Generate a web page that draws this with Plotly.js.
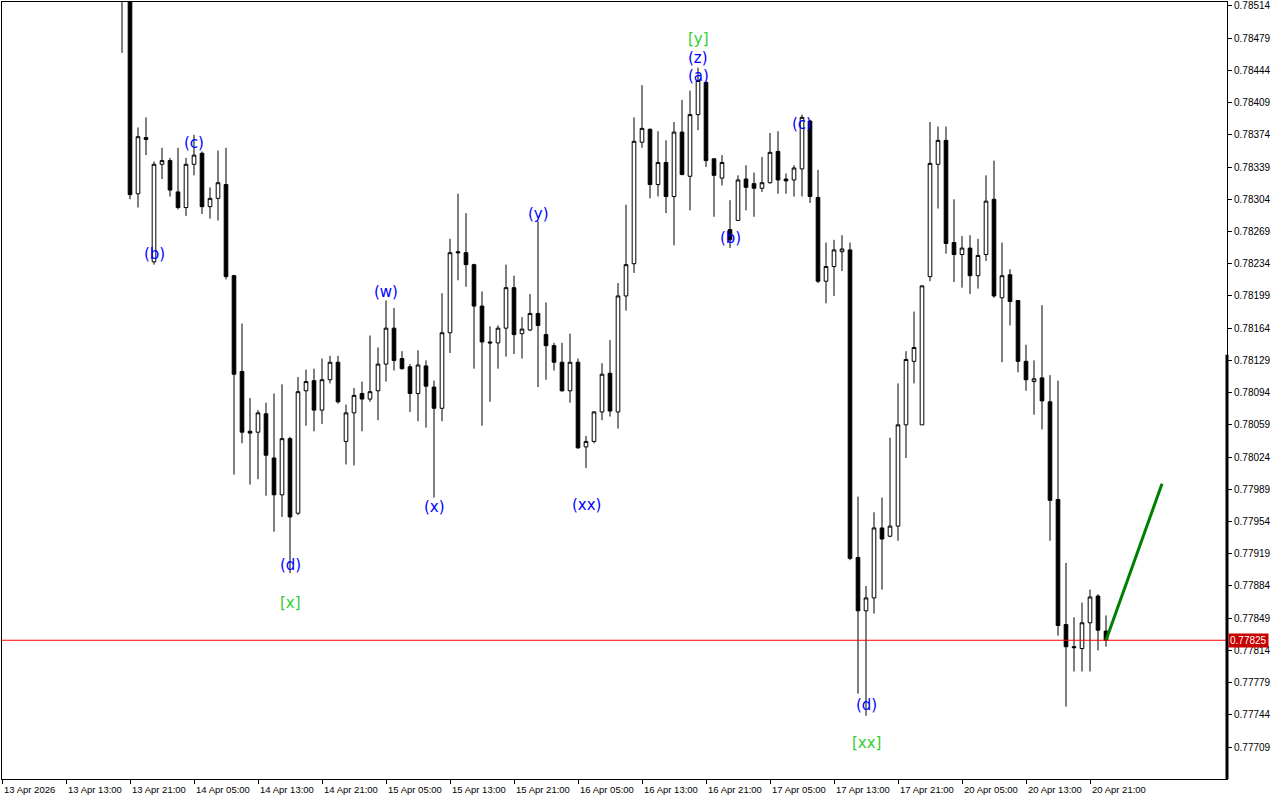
<!DOCTYPE html>
<html>
<head>
<meta charset="utf-8">
<script src="https://cdn.plot.ly/plotly-3.0.1.min.js"></script>
<style>html,body{margin:0;padding:0;background:#fff;}#chart{width:1280px;height:800px;}</style>
</head>
<body>
<div id="chart"></div>
<script>
// Hourly bars, bar number counted from the 13 Apr 2026 label (first visible bar = 15)
const firstBar = 15;
const openP = [0.78530,0.78540,0.78310,0.78371,0.78236,0.78342,0.78346,0.78312,0.78295,0.78342,
0.78354,0.78296,0.78305,0.78320,0.78221,0.78117,0.78052,0.78051,0.78071,0.78023,
0.77983,0.78044,0.77963,0.78096,0.78107,0.78075,0.78108,0.78127,0.78041,0.78072,
0.78093,0.78087,0.78096,0.78125,0.78164,0.78131,0.78122,0.78093,0.78123,0.78100,
0.78077,0.78159,0.78247,0.78246,0.78233,0.78188,0.78149,0.78148,0.78164,0.78208,
0.78158,0.78162,0.78180,0.78157,0.78145,0.78127,0.78096,0.78127,0.78035,0.78041,
0.78073,0.78115,0.78073,0.78199,0.78234,0.78366,0.78380,0.78320,0.78344,0.78307,
0.78377,0.78329,0.78396,0.78431,0.78348,0.78327,0.78271,0.78281,0.78326,0.78321,
0.78316,0.78322,0.78356,0.78326,0.78325,0.78337,0.78389,0.78306,0.78215,0.78231,
0.78247,0.78249,0.77915,0.77857,0.77871,0.77947,0.77938,0.77949,0.78059,0.78128,
0.78059,0.78220,0.78342,0.78368,0.78257,0.78244,0.78251,0.78221,0.78244,0.78304,
0.78197,0.78222,0.78194,0.78128,0.78106,0.78110,0.78084,0.77978,0.77842,0.77818,
0.77816,0.77844,0.77873,0.77835];
const highP = [0.78560,0.78550,0.78382,0.78393,0.78345,0.78360,0.78349,0.78360,0.78349,0.78374,
0.78356,0.78317,0.78357,0.78360,0.78222,0.78169,0.78088,0.78075,0.78083,0.78093,
0.78103,0.78046,0.78111,0.78119,0.78120,0.78131,0.78134,0.78134,0.78081,0.78099,
0.78106,0.78156,0.78143,0.78194,0.78186,0.78139,0.78125,0.78140,0.78129,0.78107,
0.78202,0.78261,0.78310,0.78289,0.78234,0.78204,0.78166,0.78167,0.78233,0.78221,
0.78176,0.78201,0.78280,0.78192,0.78148,0.78148,0.78158,0.78131,0.78047,0.78074,
0.78126,0.78151,0.78213,0.78298,0.78393,0.78428,0.78381,0.78378,0.78368,0.78388,
0.78412,0.78422,0.78447,0.78432,0.78348,0.78352,0.78303,0.78330,0.78341,0.78333,
0.78350,0.78376,0.78378,0.78332,0.78341,0.78396,0.78390,0.78336,0.78257,0.78260,
0.78265,0.78257,0.77981,0.77884,0.77964,0.77980,0.78045,0.78104,0.78139,0.78182,
0.78210,0.78388,0.78383,0.78383,0.78304,0.78264,0.78265,0.78261,0.78330,0.78346,
0.78257,0.78228,0.78194,0.78146,0.78129,0.78189,0.78113,0.78107,0.77909,0.77850,
0.77866,0.77880,0.77875,0.77852];
const lowP = [0.78463,0.78304,0.78295,0.78352,0.78233,0.78326,0.78307,0.78293,0.78286,0.78330,
0.78288,0.78283,0.78281,0.78217,0.78005,0.78039,0.77994,0.78000,0.77982,0.77943,
0.77959,0.77898,0.77961,0.78058,0.78052,0.78060,0.78104,0.78082,0.78016,0.78015,
0.78052,0.78084,0.78064,0.78106,0.78118,0.78119,0.78073,0.78063,0.78056,0.77980,
0.78063,0.78137,0.78216,0.78209,0.78120,0.78058,0.78084,0.78120,0.78133,0.78136,
0.78131,0.78161,0.78100,0.78108,0.78118,0.78095,0.78083,0.78033,0.78012,0.78039,
0.78064,0.78068,0.78055,0.78183,0.78224,0.78360,0.78305,0.78307,0.78289,0.78254,
0.78330,0.78292,0.78379,0.78339,0.78285,0.78319,0.78251,0.78281,0.78292,0.78285,
0.78312,0.78321,0.78310,0.78310,0.78307,0.78307,0.78300,0.78213,0.78191,0.78199,
0.78226,0.77912,0.77767,0.77743,0.77854,0.77880,0.77937,0.77933,0.78023,0.78104,
0.78059,0.78215,0.78294,0.78245,0.78214,0.78208,0.78201,0.78207,0.78237,0.78197,
0.78127,0.78167,0.78116,0.78096,0.78070,0.78054,0.77933,0.77830,0.77753,0.77791,
0.77791,0.77791,0.77814,0.77818];
const closeP = [0.78545,0.78309,0.78372,0.78369,0.78342,0.78346,0.78314,0.78295,0.78342,0.78352,
0.78296,0.78305,0.78322,0.78220,0.78114,0.78051,0.78050,0.78072,0.78026,0.77983,
0.78044,0.77959,0.78095,0.78106,0.78075,0.78108,0.78127,0.78084,0.78072,0.78091,
0.78087,0.78095,0.78125,0.78164,0.78129,0.78120,0.78093,0.78124,0.78101,0.78077,
0.78159,0.78246,0.78246,0.78233,0.78188,0.78149,0.78148,0.78164,0.78208,0.78157,
0.78163,0.78180,0.78167,0.78145,0.78127,0.78096,0.78127,0.78034,0.78041,0.78073,
0.78114,0.78074,0.78199,0.78233,0.78367,0.78381,0.78320,0.78344,0.78307,0.78377,
0.78331,0.78396,0.78433,0.78346,0.78330,0.78344,0.78260,0.78325,0.78317,0.78316,
0.78322,0.78355,0.78325,0.78324,0.78338,0.78393,0.78307,0.78215,0.78231,0.78249,
0.78250,0.77914,0.77857,0.77871,0.77947,0.77935,0.77949,0.78059,0.78130,0.78143,
0.78210,0.78343,0.78368,0.78256,0.78244,0.78251,0.78221,0.78243,0.78302,0.78199,
0.78221,0.78193,0.78128,0.78108,0.78109,0.78085,0.77977,0.77841,0.77818,0.77817,
0.77844,0.77872,0.77836,0.77825];

const timeLabels = ["13 Apr 2026","13 Apr 13:00","13 Apr 21:00","14 Apr 05:00","14 Apr 13:00","14 Apr 21:00",
"15 Apr 05:00","15 Apr 13:00","15 Apr 21:00","16 Apr 05:00","16 Apr 13:00","16 Apr 21:00",
"17 Apr 05:00","17 Apr 13:00","17 Apr 21:00","20 Apr 05:00","20 Apr 13:00","20 Apr 21:00"];
const timeLabelBars = [0,8,16,24,32,40,48,56,64,72,80,88,96,104,112,120,128,136];

const priceTicks = [0.78514,0.78479,0.78444,0.78409,0.78374,0.78339,0.78304,0.78269,0.78234,0.78199,
0.78164,0.78129,0.78094,0.78059,0.78024,0.77989,0.77954,0.77919,0.77884,0.77849,0.77814,0.77779,0.77744,0.77709];

const currentPrice = 0.77825;

// wave labels
const waveText  = ["(b)","(c)","(d)","[x]","(w)","(x)","(y)","(xx)","[y]","(z)","(a)","(b)","(c)","(d)","[xx]"];
const waveBar   = [19,24,36,36,48,54,67,73,87,87,87,91,100,108,108];
const wavePrice = [0.78245,0.78365,0.77907,0.77865,0.78203,0.77970,0.78288,0.77972,0.78478,0.78458,0.78438,0.78262,0.78386,0.77755,0.77713];
const waveColor = ["b","b","b","g","b","b","b","b","g","b","b","b","b","b","g"];

// projection line
const projBars = [138,145];
const projPrices = [0.77825,0.77995];

const xBars = openP.map((_, i) => firstBar + i);

const traces = [
  {
    type: 'candlestick',
    x: xBars, open: openP, high: highP, low: lowP, close: closeP,
    increasing: {line: {color: '#000000', width: 1}, fillcolor: '#ffffff'},
    decreasing: {line: {color: '#000000', width: 1}, fillcolor: '#000000'},
    whiskerwidth: 0,
    hoverinfo: 'skip',
    showlegend: false
  },
  {
    type: 'scatter', mode: 'lines',
    x: projBars, y: projPrices,
    line: {color: '#008000', width: 3},
    hoverinfo: 'skip', showlegend: false
  }
];

const annotations = [];
waveText.forEach((t, i) => {
  annotations.push({
    x: waveBar[i], y: wavePrice[i], xref: 'x', yref: 'y',
    text: t, showarrow: false, xanchor: 'center', yanchor: 'middle',
    font: {family: 'DejaVu Sans, sans-serif', size: 15, color: waveColor[i] === 'g' ? '#32CD32' : '#0000FF'}
  });
});
timeLabels.forEach((t, i) => {
  annotations.push({
    x: timeLabelBars[i], y: 0, xref: 'x', yref: 'paper',
    text: t, showarrow: false, xanchor: 'left', yanchor: 'top',
    xshift: 0, yshift: -3,
    font: {family: 'Liberation Sans, Arial, sans-serif', size: 9.5, color: '#000'}
  });
});
annotations.push({
  x: 1, y: currentPrice, xref: 'paper', yref: 'y',
  text: currentPrice.toFixed(5), showarrow: false, xanchor: 'left', yanchor: 'middle',
  xshift: 1, bgcolor: '#C80000', borderpad: 1,
  font: {family: 'Liberation Sans, Arial, sans-serif', size: 10, color: '#ffffff'}
});

const layout = {
  width: 1280, height: 800,
  margin: {l: 2, r: 53, t: 2, b: 21},
  paper_bgcolor: '#ffffff', plot_bgcolor: '#ffffff',
  showlegend: false,
  boxgap: 0.35,
  xaxis: {
    range: [0, 153.125], showgrid: false, zeroline: false,
    showline: true, linecolor: '#000', linewidth: 1, mirror: true,
    tickvals: timeLabelBars, ticktext: timeLabelBars.map(() => ''),
    ticks: 'outside', ticklen: 4, tickcolor: '#000', tickwidth: 1,
    rangeslider: {visible: false}, fixedrange: true
  },
  yaxis: {
    side: 'right', range: [0.776743, 0.785183],
    showgrid: false, zeroline: false,
    showline: true, linecolor: '#000', linewidth: 1, mirror: true,
    tickvals: priceTicks, ticktext: priceTicks.map(v => v.toFixed(5)),
    ticks: 'outside', ticklen: 4, tickcolor: '#000',
    tickfont: {family: 'Liberation Sans, Arial, sans-serif', size: 10, color: '#000'},
    fixedrange: true
  },
  shapes: [
    {type: 'line', xref: 'paper', yref: 'y', x0: 0, x1: 1, y0: currentPrice, y1: currentPrice,
     line: {color: '#FF0000', width: 1}},
    {type: 'line', xref: 'paper', yref: 'y', x0: 1, x1: 1, y0: 0.78135, y1: 0.776743,
     line: {color: '#000', width: 3}}
  ],
  annotations: annotations
};

Plotly.newPlot('chart', traces, layout, {staticPlot: true, displayModeBar: false});
</script>
</body>
</html>
